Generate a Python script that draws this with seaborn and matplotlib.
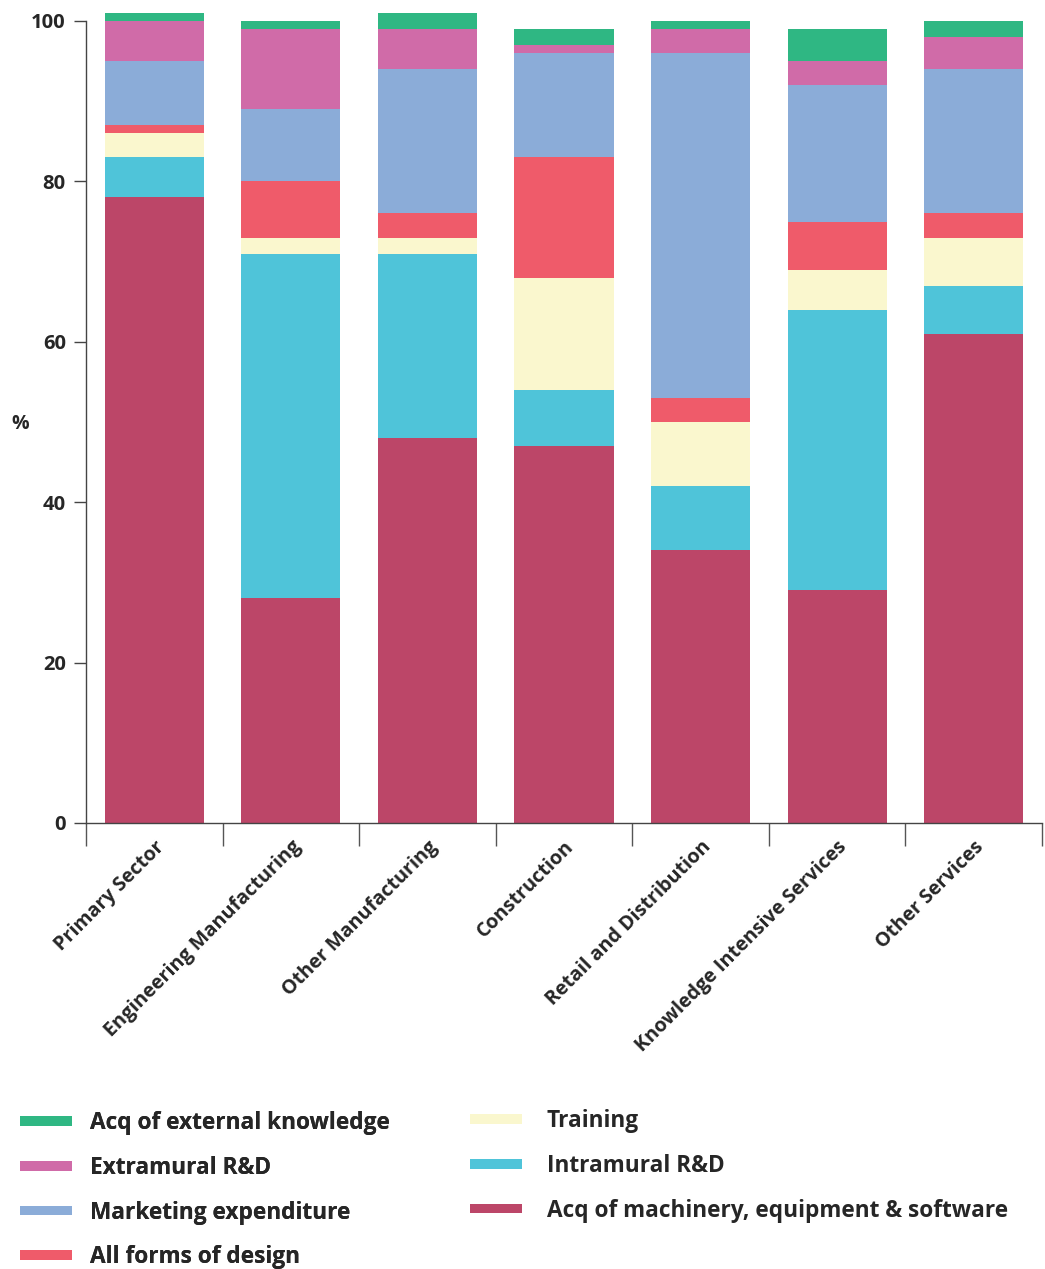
import numpy as np
import pandas as pd
import matplotlib
matplotlib.use("Agg")
import matplotlib.pyplot as plt
from matplotlib.patches import Patch
import seaborn as sns

categories = ["Primary Sector", "Engineering Manufacturing", "Other Manufacturing",
              "Construction", "Retail and Distribution", "Knowledge Intensive Services",
              "Other Services"]

# shares of innovation expenditure (%), bottom to top of each stack
machinery = [78, 28, 48, 47, 34, 29, 61]
intramural = [5, 43, 23, 7, 8, 35, 6]
training = [3, 2, 2, 14, 8, 5, 6]
design = [1, 7, 3, 15, 3, 6, 3]
marketing = [8, 9, 18, 13, 43, 17, 18]
extramural = [5, 10, 5, 1, 3, 3, 4]
external = [1, 1, 2, 2, 1, 4, 2]

series_names = ["Acq of machinery, equipment & software", "Intramural R&D", "Training",
                "All forms of design", "Marketing expenditure", "Extramural R&D",
                "Acq of external knowledge"]
series_values = [machinery, intramural, training, design, marketing, extramural, external]
colors = ["#BC4668", "#4FC4D9", "#FAF7CE", "#EF5B6A", "#8BACD8", "#D06BA8", "#2FB783"]

sns.set_theme(style="white")
plt.rcParams["font.family"] = ["Open Sans", "DejaVu Sans"]

W, H = 1045, 1269
fig = plt.figure(figsize=(W / 100, H / 100), dpi=100)
ymax = 102
px_per_unit = 8.02
ax = fig.add_axes([86 / W, (H - 823) / H, (1042 - 86) / W, ymax * px_per_unit / H])

# stacked bars: draw cumulative totals from the top layer down
cum = np.cumsum(np.array(series_values, dtype=float), axis=0)
for i in range(len(series_values) - 1, -1, -1):
    df = pd.DataFrame({"sector": categories, "value": cum[i]})
    sns.barplot(data=df, x="sector", y="value", color=colors[i], saturation=1,
                width=0.725, errorbar=None, linewidth=0, ax=ax, order=categories)

ax.set_xlim(-0.5, 6.5)
ax.set_ylim(0, ymax)
ax.set_xlabel("")
ax.set_ylabel("")

for s in ["top", "right"]:
    ax.spines[s].set_visible(False)
for s in ["left", "bottom"]:
    ax.spines[s].set_color("#444444")
    ax.spines[s].set_linewidth(1.0)
ax.spines["left"].set_bounds(0, 100)

ax.set_yticks([0, 20, 40, 60, 80, 100])
ax.set_yticklabels(["0", "20", "40", "60", "80", "100"], fontsize=14.5, fontweight="bold")
ax.tick_params(axis="y", direction="out", length=8.5, width=1.0, color="#444444", pad=6, left=True)

# category boundaries as long ticks, names as minor labels without tick marks
ax.set_xticks(np.arange(-0.5, 7, 1.0))
ax.set_xticklabels([])
ax.tick_params(axis="x", which="major", direction="out", length=16.5, width=1.0,
               color="#555555", bottom=True)
ax.set_xticks(np.arange(len(categories)), minor=True)
ax.set_xticklabels(categories, minor=True, rotation=45, ha="right",
                   rotation_mode="anchor", fontsize=14.2, fontweight="bold")
ax.tick_params(axis="x", which="minor", length=0, pad=10)

ax.text(-0.069, 49.75, "%", transform=ax.get_yaxis_transform(), ha="center", va="center",
        fontsize=14, fontweight="bold")

# two-column legend, top series first
legend_order = [6, 5, 4, 3, 2, 1, 0]
handles = [Patch(facecolor=colors[i], edgecolor="none") for i in legend_order]
labels = [series_names[i] for i in legend_order]
legend_kw = dict(loc="upper left", frameon=False, prop={"size": 16.3, "weight": "bold"},
                 handlelength=2.3, handleheight=0.3, labelspacing=0.92,
                 borderpad=0, borderaxespad=0)
leg1 = fig.legend(handles[:4], labels[:4], bbox_to_anchor=(20 / W, (H - 1111) / H),
                  handletextpad=0.8, **legend_kw)
fig.add_artist(leg1)
fig.legend(handles[4:], labels[4:], bbox_to_anchor=(470 / W, (H - 1109) / H),
           handletextpad=1.1, **legend_kw)

fig.savefig("out.png", dpi=100)
